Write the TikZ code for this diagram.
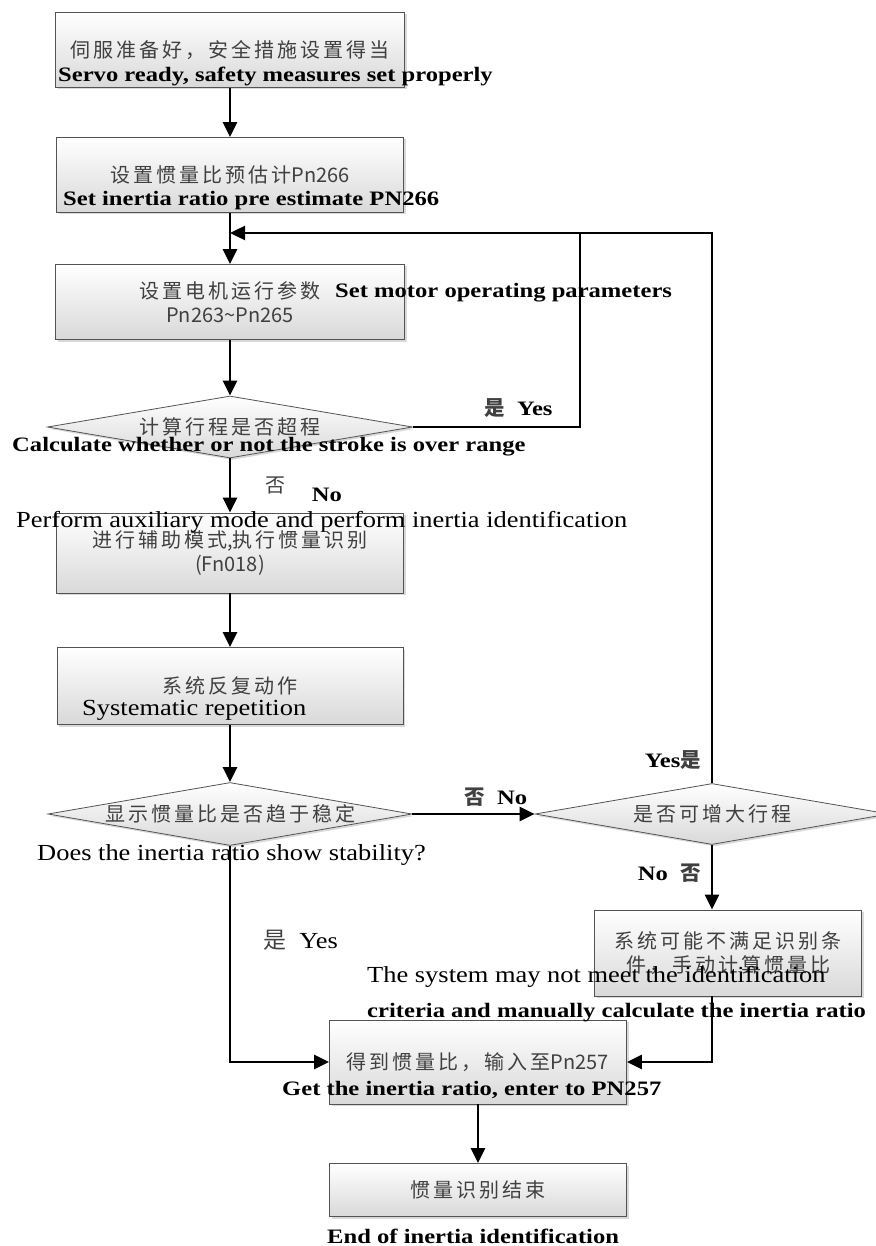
\documentclass[tikz,border=0pt]{standalone}
\usepackage{fontspec}
\setmainfont{Liberation Serif}
\newfontfamily\cjk{Noto Sans CJK SC}[LetterSpace=15]
\newfontfamily\cjklat{Noto Sans CJK SC}
\newfontfamily\enb{Liberation Serif}[FakeStretch=1.2]
\newfontfamily\enr{Liberation Serif}[FakeStretch=1.15]
\usetikzlibrary{arrows.meta, shapes.geometric, shadows}
\newcommand\zh[1]{{\cjk\color{black!75}#1}}
\newcommand\pn[1]{{\cjklat #1}}

\begin{document}
\begin{tikzpicture}[x=1pt, y=-1pt, >={Triangle[length=15pt, width=14pt]}, line width=2.4pt,
  cn/.style={font=\cjk\fontsize{20}{24}\selectfont, text=black!75},
  enb/.style={font=\enb\bfseries\fontsize{20.5}{24}\selectfont, inner sep=0pt},
  enr/.style={font=\enr\fontsize{23}{26}\selectfont, inner sep=0pt},
  box/.style={draw=gray!65!black, line width=0.8pt, top color=white, bottom color=gray!30,
    drop shadow={shadow xshift=2pt, shadow yshift=-2pt, opacity=0.3}, cn, align=center, inner sep=0pt},
  dia/.style={box, diamond, aspect=6}]
  \useasboundingbox (0,0) rectangle (875,1246);
  % boxes, main column at x=230
  \node[box, minimum width=349pt, minimum height=75pt] (ready) at (230,50) {伺服准备好，安全措施设置得当};
  \node[box, minimum width=347pt, minimum height=75pt] (ratio) at (230,175) {设置惯量比预估计\pn{Pn266}};
  \node[box, minimum width=349pt, minimum height=75pt] (motor) at (230,302) {设置电机运行参数\\\pn{Pn263\textasciitilde Pn265}};
  \node[dia, minimum width=365pt, minimum height=62pt] (over) at (230,427) {计算行程是否超程};
  \node[box, minimum width=347pt, minimum height=80pt] (aux) at (230,553) {进行辅助模式\pn{,}执行惯量识别\\\pn{(Fn018)}};
  \node[box, minimum width=346pt, minimum height=77pt] (repeat) at (230,686) {系统反复动作};
  \node[dia, minimum width=364pt, minimum height=63pt] (stable) at (230,814) {显示惯量比是否趋于稳定};
  % right branch
  \node[dia, minimum width=354pt, minimum height=61pt] (increase) at (712,814) {是否可增大行程};
  \node[box, minimum width=267pt, minimum height=86pt] (manual) at (728,953) {系统可能不满足识别条\\件，手动计算惯量比};
  \node[box, minimum width=297pt, minimum height=84pt] (result) at (478,1062) {得到惯量比，输入至\pn{Pn257}};
  \node[box, minimum width=297pt, minimum height=53pt] (finish) at (478,1190) {惯量识别结束};
  % english texts
  \node[enb, anchor=west] (readyEn) at (57,76) {Servo ready, safety measures set properly};
  \node[enb, anchor=west] (ratioEn) at (62,201) {Set inertia ratio pre estimate PN266};
  \node[enb, anchor=west] (motorEn) at (334,293) {Set motor operating parameters};
  \node[enb, anchor=west] (overEn) at (11,447) {Calculate whether or not the stroke is over range};
  \node[enr, anchor=west] (auxEn) at (15,522) {Perform auxiliary mode and perform inertia identification};
  \node[enr, anchor=west] (repeatEn) at (81,710) {Systematic repetition};
  \node[enr, anchor=west] (stableEn) at (36,855) {Does the inertia ratio show stability?};
  \node[enr, anchor=west] (manualEn) at (366,977) {The system may not meet the identification};
  \node[enb, anchor=west] (manualEn2) at (366,1013) {criteria and manually calculate the inertia ratio};
  \node[enb, anchor=west] (resultEn) at (281,1090) {Get the inertia ratio, enter to PN257};
  \node[enb, anchor=west] (finishEn) at (326,1236) {End of inertia identification};
  % yes / no
  \node[enb, anchor=west] (yes1) at (483,408) {\zh{是}\ \ Yes};
  \node[cn] (no1zh) at (275,485) {否};
  \node[enb] (no1) at (327,495) {No};
  \node[enb, anchor=west] (no2) at (463,797) {\zh{否}\ \ No};
  \node[enb, anchor=east] (yes2) at (702,760) {Yes\zh{是}};
  \node[enb, anchor=east] (no3) at (702,873) {No\ \ \zh{否}};
  \node[enr, anchor=west] (yes3) at (262,940) {\zh{是}\ \ Yes};
  % connectors
  \coordinate (loopR) at (712,233);
  \coordinate (loopIn) at (230,233);
  \coordinate (yesR) at (580,233);
  \draw[->] (ready) -- (ratio);
  \draw[->] (ratio) -- (motor);
  \draw[->] (motor) -- (over);
  \draw[->] (over) -- (aux);
  \draw[->] (aux) -- (repeat);
  \draw[->] (repeat) -- (stable);
  \draw[->] (stable) -- (increase);
  \draw[->] (increase) -- (increase |- manual.north);
  \draw[->] (manual.south -| increase) |- (result);
  \draw[->] (stable) |- (result);
  \draw[->] (result) -- (finish);
  \draw[->] (increase) -- (loopR) -- (loopIn);
  \draw (over) -| (yesR);
\end{tikzpicture}
\end{document}
